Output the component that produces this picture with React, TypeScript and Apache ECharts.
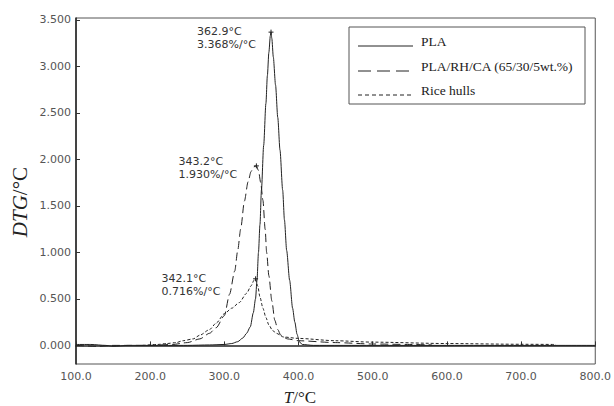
import React, { useEffect, useRef } from "react";
import * as echarts from "echarts";

// ---- data ----
const plaT = [100, 120, 140, 150, 170, 200, 250, 280, 300, 310, 318, 325, 330, 335, 339, 342, 344, 346, 348, 350, 353, 356, 358, 360, 362, 362.9, 364, 366, 369, 372, 375, 378.6, 381, 384, 388, 392, 395, 398, 401, 405, 420, 500, 600, 700, 800];
const plaV = [0.01, 0.01, 0.0, -0.01, 0.0, 0.0, 0.0, 0.005, 0.01, 0.02, 0.04, 0.08, 0.13, 0.2, 0.35, 0.5, 0.7, 1.0, 1.3, 1.67, 2.15, 2.6, 2.9, 3.15, 3.33, 3.368, 3.3, 3.1, 2.8, 2.45, 2.1, 1.67, 1.35, 1.02, 0.7, 0.4, 0.25, 0.12, 0.04, 0.01, 0.0, 0.0, 0.0, 0.0, 0.0];

const blendT = [100, 130, 150, 180, 200, 230, 250, 267, 280, 289, 300, 307, 314, 318, 322, 327, 332, 336, 340, 343.2, 346, 349, 352, 355, 357, 360, 364, 368, 372, 376, 385, 400, 450, 500, 550, 580];
const blendV = [0.0, -0.01, 0.0, 0.0, 0.0, 0.01, 0.03, 0.07, 0.13, 0.19, 0.32, 0.55, 0.8, 1.02, 1.25, 1.55, 1.76, 1.87, 1.92, 1.93, 1.88, 1.75, 1.56, 1.25, 1.0, 0.75, 0.48, 0.27, 0.17, 0.11, 0.07, 0.05, 0.03, 0.015, 0.01, 0.005];

const riceT = [190, 210, 222, 235, 244, 258, 267, 280, 289, 300, 310, 320, 330, 336, 340, 342.1, 345, 348, 352, 356, 360, 365, 370, 380, 400, 450, 500, 600, 700, 747];
const riceV = [0.0, 0.01, 0.02, 0.03, 0.05, 0.07, 0.11, 0.17, 0.24, 0.34, 0.4, 0.46, 0.56, 0.64, 0.7, 0.716, 0.64, 0.52, 0.4, 0.3, 0.22, 0.16, 0.13, 0.09, 0.075, 0.05, 0.035, 0.02, 0.012, 0.01];

const seriesNames = ["PLA", "PLA/RH/CA (65/30/5wt.%)", "Rice hulls"];
const peakT = [362.9, 343.2, 342.1];
const peakV = [3.368, 1.93, 0.716];
const peakLabels = [
  ["362.9°C", "3.368%/°C"],
  ["343.2°C", "1.930%/°C"],
  ["342.1°C", "0.716%/°C"],
];
const yTicks = [0, 0.5, 1, 1.5, 2, 2.5, 3, 3.5];
const xTicks = [100, 200, 300, 400, 500, 600, 700, 800];

const zip = (t: number[], v: number[]) => t.map((x, i) => [x, v[i]]);

export default function App() {
  const ref = useRef<HTMLDivElement>(null);
  useEffect(() => {
    if (!ref.current) return;
    const chart = echarts.init(ref.current, null, { renderer: "svg" });
    const lineColor = "#222";
    const dashes = ["solid", [8, 4], [3, 2]];
    const dataSets = [zip(plaT, plaV), zip(blendT, blendV), zip(riceT, riceV)];
    const labelOffsets = [
      [-74, -7],
      [-78, -11],
      [-94, -7],
    ];
    const series = dataSets.map((d, i) => ({
      type: "line",
      name: seriesNames[i],
      data: d,
      showSymbol: false,
      smooth: 0.25,
      smoothMonotone: "x",
      lineStyle: { color: lineColor, width: 1, type: dashes[i] as any },
      markPoint: {
        symbol: "path://M0,4H8M4,0V8",
        symbolSize: 5,
        itemStyle: { color: "none", borderColor: lineColor, borderWidth: 1 },
        label: {
          show: true,
          position: "inside",
          align: "left",
          verticalAlign: "top",
          offset: labelOffsets[i],
          formatter: peakLabels[i].join("\n"),
          fontFamily: "DejaVu Sans",
          fontSize: 11,
          lineHeight: 13,
          color: "#333",
        },
        data: [{ coord: [peakT[i], peakV[i]] }],
      },
    }));

    const legendX = 349;
    const legendY = 27;
    const rowY = [46, 71, 95];
    const legendGraphics: any[] = [
      {
        type: "rect",
        shape: { x: legendX, y: legendY, width: 236, height: 77 },
        style: { fill: "#fff", stroke: "#555", lineWidth: 1 },
      },
    ];
    const legendDash = [null, [13, 6], [4, 3]];
    seriesNames.forEach((n, i) => {
      legendGraphics.push({
        type: "line",
        shape: { x1: 358, y1: rowY[i], x2: 413, y2: rowY[i] },
        style: { stroke: lineColor, lineWidth: 1, lineDash: legendDash[i] },
      });
      legendGraphics.push({
        type: "text",
        x: 421,
        y: rowY[i] - 5,
        style: {
          text: n,
          fontFamily: "Liberation Serif",
          fontSize: 13.5,
          fill: "#222",
          verticalAlign: "middle",
        },
      });
    });

    chart.setOption({
      animation: false,
      backgroundColor: "#fff",
      grid: {
        left: 76,
        right: 18,
        top: 18,
        bottom: 42,
        show: true,
        borderColor: "#555",
        borderWidth: 1,
      },
      xAxis: {
        type: "value",
        min: 100,
        max: 800,
        interval: 100,
        axisLine: { show: true, lineStyle: { color: "#222", width: 1.5 } },
        axisTick: { show: true, inside: true, length: 4, lineStyle: { color: "#333" }, customValues: xTicks },
        axisLabel: {
          customValues: xTicks,
          formatter: (v: number) => v.toFixed(1),
          fontFamily: "DejaVu Sans",
          fontSize: 11,
          color: "#555",
          margin: 7,
        },
        splitLine: { show: false },
      },
      yAxis: {
        type: "value",
        min: -0.2,
        max: 3.52,
        axisLine: { show: true, lineStyle: { color: "#222", width: 1.5 } },
        axisTick: { show: true, inside: true, length: 4, lineStyle: { color: "#333" }, customValues: yTicks },
        axisLabel: {
          customValues: yTicks,
          formatter: (v: number) => v.toFixed(3),
          fontFamily: "DejaVu Sans",
          fontSize: 11,
          color: "#555",
          margin: 5,
        },
        splitLine: { show: false },
      },
      graphic: [
        ...legendGraphics,
        {
          type: "text",
          x: 20,
          y: 202,
          rotation: Math.PI / 2,
          style: {
            text: "{i|DTG}/°C",
            rich: {
              i: { fontStyle: "italic", fontFamily: "Liberation Serif", fontSize: 21, fill: "#222" },
            },
            fontFamily: "Liberation Serif",
            fontSize: 21,
            fill: "#222",
            align: "center",
            verticalAlign: "middle",
          },
        },
        {
          type: "text",
          x: 300,
          y: 397,
          style: {
            text: "{i|T}/°C",
            rich: {
              i: { fontStyle: "italic", fontFamily: "Liberation Serif", fontSize: 17, fill: "#222" },
            },
            fontFamily: "Liberation Serif",
            fontSize: 17,
            fill: "#222",
            align: "center",
            verticalAlign: "middle",
          },
        },
      ],
      series,
    });
    return () => chart.dispose();
  }, []);
  return (
    <div
      ref={ref}
      style={{ position: "fixed", left: 0, top: 0, width: 614, height: 406, background: "#fff" }}
    />
  );
}
